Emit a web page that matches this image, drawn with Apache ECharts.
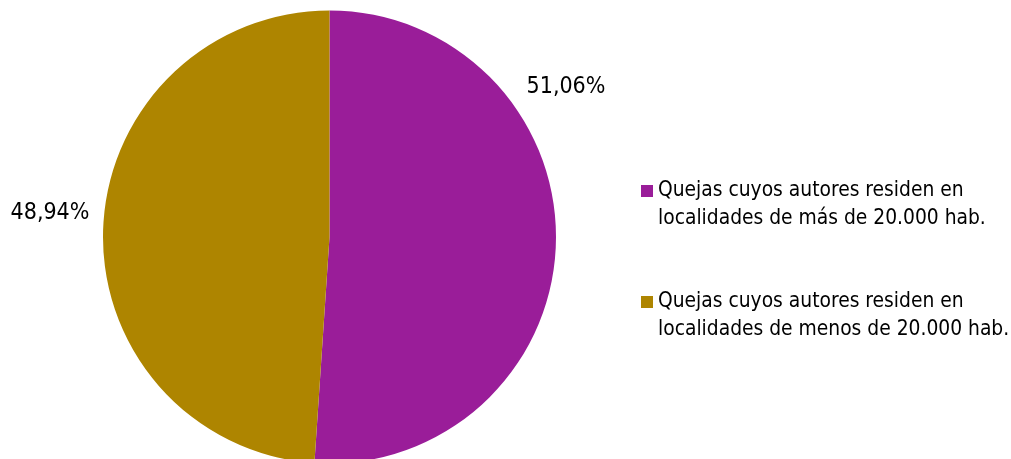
<!DOCTYPE html>
<html>
<head>
<meta charset="utf-8">
<script src="https://cdn.jsdelivr.net/npm/echarts@6/dist/echarts.min.js"></script>
<style>
html,body{margin:0;padding:0;background:#fff;}
#chart{width:1011px;height:459px;}
</style>
</head>
<body>
<div id="chart"></div>
<script>
var categories = [
  'Quejas cuyos autores residen en\nlocalidades de más de 20.000 hab.',
  'Quejas cuyos autores residen en\nlocalidades de menos de 20.000 hab.'
];
var values = [51.06, 48.94];
var labelTexts = ['51,06%', '48,94%'];
var colors = ['#9A1D99', '#AE8500'];
var labelAnchors = [[566, 87], [50, 213]];

var chart = echarts.init(document.getElementById('chart'), null, {renderer: 'canvas'});
var FONT = '"DejaVu Sans Condensed", "DejaVu Sans", sans-serif';

var data = categories.map(function (c, i) {
  return { name: c, value: values[i], itemStyle: { color: colors[i] } };
});

chart.setOption({
  animation: false,
  backgroundColor: '#fff',
  legend: {
    orient: 'vertical',
    left: 641,
    top: 177,
    padding: 0,
    // square at the top of a taller box so it lines up with the first text line
    icon: 'path://M0,0H10V10H0Z M0,33.32H0.01V33.33H0Z',
    itemWidth: 12,
    itemHeight: 40,
    itemGap: 55,
    itemStyle: { borderWidth: 0 },
    textStyle: {
      fontFamily: FONT,
      fontSize: 20.8,
      color: '#000',
      lineHeight: 28
    },
    data: categories
  },
  series: [{
    type: 'pie',
    center: [329.5, 237],
    radius: 226.5,
    startAngle: 90,
    clockwise: true,
    avoidLabelOverlap: false,
    itemStyle: { borderWidth: 0 },
    label: {
      show: true,
      position: 'outside',
      fontFamily: FONT,
      fontSize: 23,
      color: '#000',
      formatter: function (p) { return labelTexts[p.dataIndex]; }
    },
    labelLine: { show: false },
    labelLayout: function (p) {
      var a = labelAnchors[p.dataIndex];
      return { x: a[0], y: a[1], align: 'center', verticalAlign: 'middle' };
    },
    emphasis: { disabled: true },
    data: data
  }]
});
</script>
</body>
</html>
